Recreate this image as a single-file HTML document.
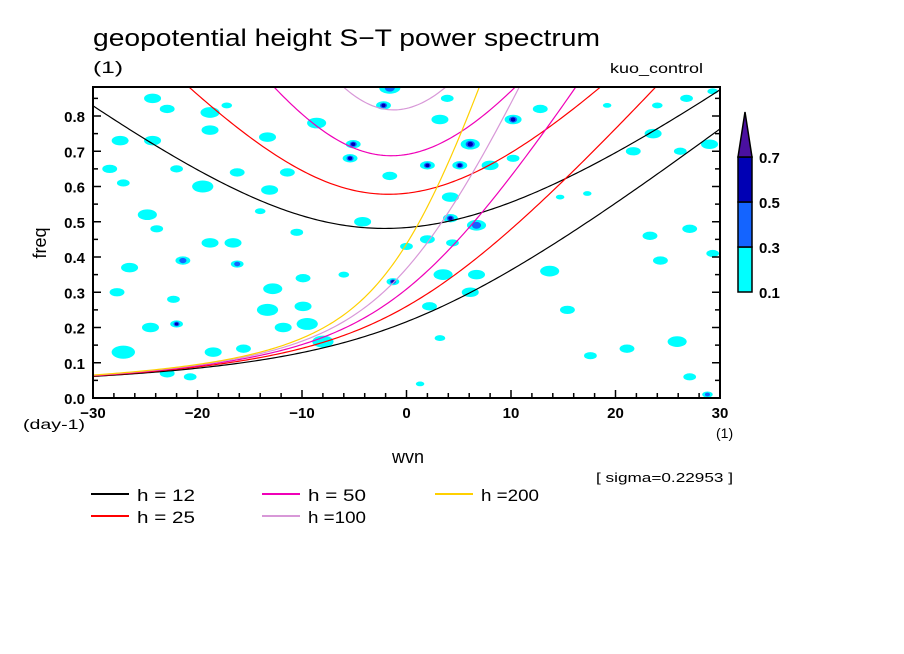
<!DOCTYPE html>
<html><head><meta charset="utf-8"><style>
html,body{margin:0;padding:0;background:#fff;width:904px;height:654px;overflow:hidden}
svg text{font-family:"Liberation Sans",sans-serif;fill:#000}
</style></head><body>
<svg id="chart" width="904" height="654" viewBox="0 0 904 654" xmlns="http://www.w3.org/2000/svg">
<defs><clipPath id="plotclip"><rect x="93" y="87" width="627" height="311"/></clipPath></defs>
<text x="93" y="46" font-size="24" textLength="507" lengthAdjust="spacingAndGlyphs">geopotential height S−T power spectrum</text>
<text x="93" y="73" font-size="17" textLength="30" lengthAdjust="spacingAndGlyphs">(1)</text>
<text x="610" y="73" font-size="14" textLength="93" lengthAdjust="spacingAndGlyphs">kuo_control</text>
<g id="blobs" clip-path="url(#plotclip)"></g>
<g id="curves" clip-path="url(#plotclip)"></g>
<g id="axes"></g>
<text transform="translate(46,243) rotate(-90)" font-size="18" text-anchor="middle">freq</text>
<text x="23" y="429" font-size="14" textLength="62" lengthAdjust="spacingAndGlyphs">(day-1)</text>
<text x="716" y="438" font-size="14">(1)</text>
<text x="408" y="463" font-size="18" text-anchor="middle">wvn</text>
<text x="596" y="482" font-size="13" textLength="137" lengthAdjust="spacingAndGlyphs">[ sigma=0.22953 ]</text>
<g id="colorbar"></g>
<g id="legend"></g>
</svg>
<script>
// data
const depths = [12, 25, 50, 100, 200];
const depthColors = ['#000000', '#ff0000', '#f000b8', '#d898d8', '#ffd000'];
const yTicks = [0.0, 0.1, 0.2, 0.3, 0.4, 0.5, 0.6, 0.7, 0.8];
const xTicks = [-30, -20, -10, 0, 10, 20, 30];
const cbLevels = [0.1, 0.3, 0.5, 0.7];
const cbColors = ['#00ffff', '#1464ff', '#0000b4', '#4a10a0'];
// blobs: [wavenumber, freq, level, radius]
const blobs = [
[-24.3,.85,1,8],[-22.9,.82,1,7],[-18.8,.81,1,9],[-17.2,.83,1,5],[-27.4,.73,1,8],[-24.3,.73,1,8],
[-18.8,.76,1,8],[-13.3,.74,1,8],[-8.6,.78,1,9],[-5.1,.72,3,7],[-5.4,.68,3,7],[-28.4,.65,1,7],
[-22.0,.65,1,6],[-16.2,.64,1,7],[-11.4,.64,1,7],[-27.1,.61,1,6],[-19.5,.60,1,10],[-13.1,.59,1,8],
[-1.6,.63,1,7],[-24.8,.52,1,9],[-14.0,.53,1,5],[-4.2,.50,1,8],[-23.9,.48,1,6],[-18.8,.44,1,8],
[-16.6,.44,1,8],[-21.4,.39,2,7],[-16.2,.38,2,6],[-26.5,.37,1,8],[-12.8,.31,1,9],[-9.9,.34,1,7],
[-1.3,.33,3,6],[-27.7,.30,1,7],[-22.3,.28,1,6],[-9.9,.26,1,8],[-13.3,.25,1,10],[-24.5,.20,1,8],
[-22.0,.21,3,6],[-11.8,.20,1,8],[-9.5,.21,1,10],[-27.1,.13,1,11],[-18.5,.13,1,8],[-15.6,.14,1,7],
[-8.0,.16,1,10],[-20.7,.06,1,6],[-22.9,.07,1,7],[-1.6,.88,2,10],[-2.2,.83,3,7],[3.2,.79,1,8],
[3.9,.85,1,6],[10.2,.79,3,8],[12.8,.82,1,7],[6.1,.72,3,9],[2.0,.66,3,7],[5.1,.66,3,7],
[8.0,.66,1,8],[10.2,.68,1,6],[4.2,.57,1,8],[4.2,.51,3,7],[6.7,.49,2,9],[2.0,.45,1,7],
[0.0,.43,1,6],[4.4,.44,1,6],[3.5,.35,1,9],[6.7,.35,1,8],[2.2,.26,1,7],[15.4,.25,1,7],
[14.7,.57,1,4],[17.3,.58,1,4],[21.7,.70,1,7],[23.6,.75,1,8],[26.2,.70,1,6],[29.0,.72,1,8],
[19.2,.83,1,4],[24.0,.83,1,5],[26.8,.85,1,6],[29.3,.87,1,5],[23.3,.46,1,7],[27.1,.48,1,7],
[24.3,.39,1,7],[29.3,.41,1,6],[13.7,.36,1,9],[21.1,.14,1,7],[25.9,.16,1,9],[17.6,.12,1,6],
[27.1,.06,1,6],[3.2,.17,1,5],[1.3,.04,1,4],[28.8,.01,2,5],[6.1,.30,1,8],[-10.5,.47,1,6],[-6.0,.35,1,5]
];

const NS='http://www.w3.org/2000/svg';
const X0=93,X1=720,Y0=398,YTOP=87;
const xS=k=>X0+(k+30)/60*(X1-X0);
const yS=f=>Y0-f/0.8*(Y0-116);
function mk(tag,attrs,parent){const e=document.createElementNS(NS,tag);for(const a in attrs)e.setAttribute(a,attrs[a]);parent.appendChild(e);return e;}

// blobs
const gB=document.getElementById('blobs');
blobs.forEach((b,i)=>{
  const cx=xS(b[0]),cy=yS(b[1]),r=b[3]*0.85;
  const e=mk('ellipse',{cx:cx,cy:cy,rx:r*1.25,ry:r*0.7,fill:'#00ffff'},gB);
  
  
  if(b[2]>=2){const e2=mk('ellipse',{cx:cx,cy:cy,rx:r*0.6,ry:r*0.45,fill:'#1464ff'},gB);
    
    }
  if(b[2]>=3){const e3=mk('ellipse',{cx:cx,cy:cy,rx:r*0.35,ry:r*0.3,fill:'#0000b4'},gB);
    
    }
});

// dispersion curves
const g=9.8,beta=2.28e-11,A=6.371e6;
const gC=document.getElementById('curves');
depths.forEach((h,i)=>{
  const c=Math.sqrt(g*h), L=Math.sqrt(c/beta), W=Math.sqrt(beta*c)*86400/(2*Math.PI);
  let p0='',p2='';
  for(let k=-30;k<=30.001;k+=0.25){
    const ks=k/A*L;
    const w0=ks/2+Math.sqrt(ks*ks/4+1);
    let w=Math.sqrt(ks*ks+5)+0.5;
    for(let it=0;it<30;it++){const fv=w*w*w-(ks*ks+5)*w-ks;const d=3*w*w-(ks*ks+5);w-=fv/d;}
    p0+=(p0?'L':'M')+xS(k).toFixed(2)+','+Math.max(yS(w0*W),-50).toFixed(2);
    p2+=(p2?'L':'M')+xS(k).toFixed(2)+','+Math.max(yS(w*W),-50).toFixed(2);
  }
  const a=mk('path',{d:p0,fill:'none',stroke:depthColors[i],'stroke-width':1.2},gC);
  
  
  const b=mk('path',{d:p2,fill:'none',stroke:depthColors[i],'stroke-width':1.2},gC);
  
  
});

// axes
const gA=document.getElementById('axes');
const fr=mk('rect',{x:X0,y:YTOP,width:X1-X0,height:Y0-YTOP,fill:'none',stroke:'#000','stroke-width':2},gA);


for(let f=0;f<=0.88;f+=0.05){
  const y=yS(f),major=Math.abs(f*10-Math.round(f*10))<1e-6,len=major?8:5;
  mk('line',{x1:X0,x2:X0+len,y1:y,y2:y,stroke:'#000','stroke-width':1.5},gA);
  mk('line',{x1:X1,x2:X1-len,y1:y,y2:y,stroke:'#000','stroke-width':1.5},gA);
}
for(let k=-30;k<=30;k+=2){
  const x=xS(k),major=k%10===0,len=major?8:5;
  mk('line',{x1:x,x2:x,y1:Y0,y2:Y0-len,stroke:'#000','stroke-width':1.5},gA);
}
yTicks.forEach(v=>{
  const t=mk('text',{x:85,y:yS(v)+6,'font-size':15,'text-anchor':'end','font-weight':'bold'},gA);
  t.textContent=v.toFixed(1);
  
  
});
xTicks.forEach(v=>{
  const t=mk('text',{x:xS(v),y:418,'font-size':15,'text-anchor':'middle','font-weight':'bold'},gA);
  t.textContent=(v<0?'−':'')+Math.abs(v);
  
  
});

// colorbar
const gCB=document.getElementById('colorbar');
const cbX=738,cbW=14,segH=45,cbBot=292;
for(let i=0;i<3;i++){
  const r=mk('rect',{x:cbX,y:cbBot-(i+1)*segH,width:cbW,height:segH,fill:cbColors[i],stroke:'#000','stroke-width':1.5},gCB);
  
  
}
const tri=mk('polygon',{points:`${cbX},${cbBot-3*segH} ${cbX+cbW},${cbBot-3*segH} ${cbX+cbW/2},${cbBot-4*segH}`,fill:cbColors[3],stroke:'#000','stroke-width':1.5},gCB);


cbLevels.forEach((v,i)=>{
  const t=mk('text',{x:759,y:cbBot-i*segH+6,'font-size':15,'font-weight':'bold'},gCB);
  t.textContent=v.toFixed(1);
  
  
});

// legend
const gL=document.getElementById('legend');
const legPos=[[91,494],[91,516],[262,494],[262,516],[435,494]];
const legText=['h = 12','h = 25','h = 50','h =100','h =200'];
depths.forEach((h,i)=>{
  const [lx,ly]=legPos[i];
  const ln=mk('line',{x1:lx,x2:lx+38,y1:ly,y2:ly,stroke:depthColors[i],'stroke-width':2},gL);
  
  
  const t=mk('text',{x:lx+46,y:ly+7,'font-size':17,textLength:58,lengthAdjust:'spacingAndGlyphs'},gL);
  t.textContent=legText[i];
  
  
});
</script>
</body></html>
